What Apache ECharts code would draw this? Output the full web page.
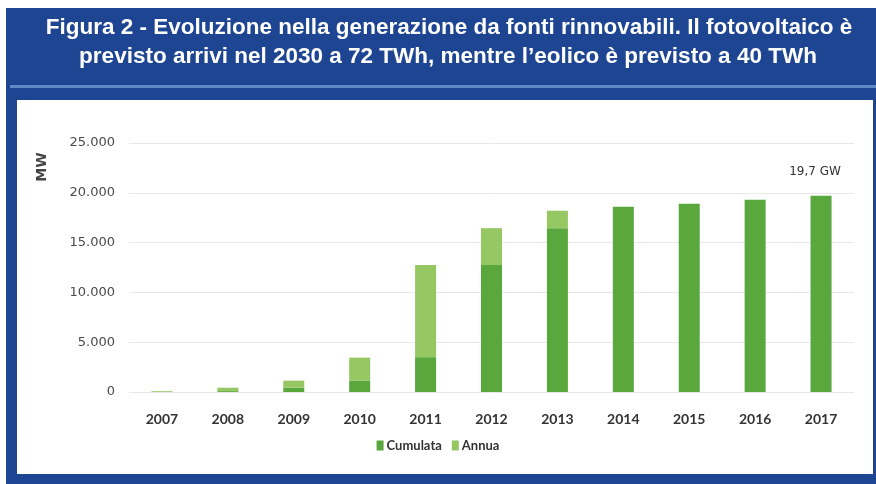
<!DOCTYPE html>
<html>
<head>
<meta charset="utf-8">
<script src="https://cdn.jsdelivr.net/npm/echarts@6/dist/echarts.min.js"></script>
<style>
  html, body { margin: 0; padding: 0; background: #ffffff; }
  #chart { width: 876px; height: 484px; }
</style>
</head>
<body>
<div id="chart"></div>
<script>
// Anni di riferimento e potenza fotovoltaica installata (MW)
const years = ['2007', '2008', '2009', '2010', '2011', '2012', '2013', '2014', '2015', '2016', '2017'];
const cumulata = [20, 90, 430, 1150, 3500, 12750, 16450, 18600, 18900, 19300, 19700];
const annua = [70, 340, 710, 2300, 9250, 3700, 1750, 0, 0, 0, 0];
const yTicks = { min: 0, max: 25000, interval: 5000 };
const titleLines = [
  'Figura 2 - Evoluzione nella generazione da fonti rinnovabili. Il fotovoltaico è',
  'previsto arrivi nel 2030 a 72 TWh, mentre l\u2019eolico è previsto a 40 TWh'
];
const lastLabel = '19,7 GW';

const chart = echarts.init(document.getElementById('chart'), null, { renderer: 'canvas' });

const fmt = v => v === 0 ? '0' : v.toLocaleString('it-IT').replace(/\s/g, '.');
const titleFont = 'bold 22.5px "Liberation Sans", Arial, sans-serif';

chart.setOption({
  animation: false,
  backgroundColor: '#ffffff',
  graphic: [
    // cornice blu
    { type: 'rect', z: -10, shape: { x: 6, y: 8, width: 870, height: 476 }, style: { fill: '#1e4592' } },
    // filetto chiaro sotto il titolo
    { type: 'rect', z: -9, shape: { x: 10, y: 85, width: 866, height: 3 }, style: { fill: '#6088c4' } },
    // pannello bianco del grafico
    { type: 'rect', z: -8, shape: { x: 17, y: 100, width: 856, height: 374 }, style: { fill: '#ffffff' } },
    { type: 'text', z: 5, x: 449, y: 28, style: { text: titleLines[0], fill: '#ffffff', font: titleFont, textAlign: 'center', textVerticalAlign: 'middle' } },
    { type: 'text', z: 5, x: 448, y: 57, style: { text: titleLines[1], fill: '#ffffff', font: titleFont, textAlign: 'center', textVerticalAlign: 'middle' } },
    { type: 'text', z: 5, x: 42, y: 167, rotation: Math.PI / 2, style: { text: 'MW', fill: '#444444', font: 'bold 14px "DejaVu Sans", sans-serif', textAlign: 'center', textVerticalAlign: 'middle' } }
  ],
  grid: { left: 129, right: 22, top: 143, bottom: 92, containLabel: false },
  legend: {
    data: ['Cumulata', 'Annua'],
    left: 'center',
    top: 434,
    itemWidth: 7,
    itemHeight: 10,
    itemGap: 10,
    icon: 'rect',
    textStyle: { color: '#333333', fontSize: 13, fontWeight: 'bold', fontFamily: '"Liberation Sans Narrow", Lato, sans-serif', padding: [0, 0, 0, -2] }
  },
  xAxis: {
    type: 'category',
    data: years,
    axisLine: { show: false },
    axisTick: { show: false },
    axisLabel: { color: '#333333', fontSize: 14, fontWeight: 'bold', fontFamily: '"Liberation Sans Narrow", Lato, sans-serif', margin: 20 }
  },
  yAxis: {
    type: 'value',
    min: yTicks.min,
    max: yTicks.max,
    interval: yTicks.interval,
    axisLine: { show: false },
    axisTick: { show: false },
    splitLine: { lineStyle: { color: '#e8e8e8', width: 1 } },
    axisLabel: { color: '#4a4a4a', fontSize: 13, fontFamily: '"DejaVu Sans", sans-serif', margin: 14, formatter: fmt }
  },
  series: [
    {
      name: 'Cumulata',
      type: 'bar',
      stack: 'pv',
      barWidth: 21,
      data: cumulata,
      itemStyle: { color: '#5aa73d' },
      label: {
        show: true,
        position: 'top',
        distance: 18,
        offset: [-6, 0],
        color: '#333333',
        fontSize: 12,
        fontFamily: '"DejaVu Sans", sans-serif',
        formatter: p => p.dataIndex === years.length - 1 ? lastLabel : ''
      }
    },
    {
      name: 'Annua',
      type: 'bar',
      stack: 'pv',
      barWidth: 21,
      data: annua,
      itemStyle: { color: '#95c763' }
    }
  ]
});
</script>
</body>
</html>
